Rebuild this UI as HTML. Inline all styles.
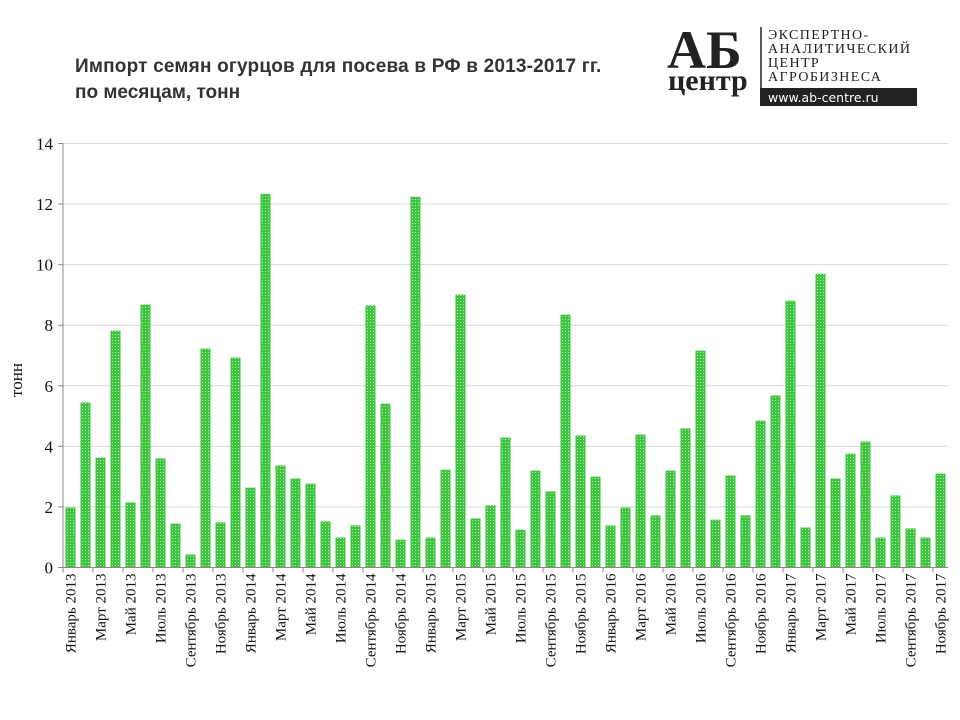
<!DOCTYPE html>
<html><head><meta charset="utf-8"><style>body{margin:0;background:#fff}svg{display:block}</style></head><body>
<svg width="960" height="720" xmlns="http://www.w3.org/2000/svg" font-family="Liberation Serif, serif">
<defs><pattern id="p" width="3" height="3" patternUnits="userSpaceOnUse"><rect width="3" height="3" fill="#3ec43e"/><rect x="1" y="1" width="1" height="1" fill="#b8ecb8"/></pattern></defs>
<text x="75" y="72" font-family="Liberation Sans, sans-serif" font-weight="bold" font-size="19" fill="#333" letter-spacing="0.2">Импорт  семян  огурцов  для  посева  в  РФ  в  2013-2017  гг.</text>
<text x="75" y="98" font-family="Liberation Sans, sans-serif" font-weight="bold" font-size="19" fill="#333">по  месяцам,  тонн</text>
<text x="667" y="68" font-size="54" font-weight="bold" fill="#222">АБ</text>
<text x="668" y="90" font-size="30" font-weight="bold" fill="#222">центр</text>
<line x1="761" y1="27" x2="761" y2="106" stroke="#222" stroke-width="1.5"/>
<g font-size="14" fill="#222" letter-spacing="1.4">
<text x="768" y="39">ЭКСПЕРТНО-</text><text x="768" y="53">АНАЛИТИЧЕСКИЙ</text><text x="768" y="67">ЦЕНТР</text><text x="768" y="81">АГРОБИЗНЕСА</text></g>
<rect x="760" y="88" width="157" height="18" fill="#222"/>
<text x="768" y="102" font-family="DejaVu Sans, sans-serif" font-size="12.5" fill="#fff">www.ab-centre.ru</text>
<g id="grid" stroke="#d9d9d9"></g>
<g id="bars"></g>
<g id="ax"></g>
<text transform="translate(22,380) rotate(-90)" text-anchor="middle" font-size="17" fill="#111">тонн</text>
</svg>
<script>
var v=[1.98,5.45,3.63,7.82,2.15,8.68,3.6,1.45,0.43,7.23,1.49,6.93,2.64,12.34,3.37,2.94,2.77,1.52,0.99,1.39,8.65,5.41,0.92,12.24,0.99,3.23,9.01,1.62,2.05,4.29,1.25,3.2,2.51,8.35,4.36,3.0,1.39,1.98,4.39,1.72,3.2,4.59,7.16,1.58,3.04,1.72,4.85,5.68,8.81,1.32,9.7,2.94,3.76,4.16,0.99,2.38,1.29,0.99,3.1];
var NS="http://www.w3.org/2000/svg",s=document.querySelector('svg');
function el(t,a,p,txt){var e=document.createElementNS(NS,t);for(var k in a)e.setAttribute(k,a[k]);if(txt!=null)e.textContent=txt;(p||s).appendChild(e);return e;}
var x0=63,y0=567.5,sc=(567.5-143.5)/14,pitch=15,W=x0+pitch*59;
var g=document.getElementById('grid'),b=document.getElementById('bars'),ax=document.getElementById('ax');
for(var i=0;i<=14;i+=2){var y=y0-i*sc;if(i>0)el('line',{x1:x0,x2:W,y1:y,y2:y},g);
el('line',{x1:x0-5,x2:x0,y1:y,y2:y,stroke:'#888'},ax);
el('text',{x:x0-10,y:y+6,'text-anchor':'end','font-size':'17',fill:'#111'},ax,i);}
el('line',{x1:x0,x2:x0,y1:143.5,y2:y0,stroke:'#888'},ax);
el('line',{x1:x0,x2:W,y1:y0,y2:y0,stroke:'#888'},ax);
v.forEach(function(d,i){el('rect',{x:x0+i*pitch+2.5,y:y0-d*sc,width:10,height:d*sc,fill:'url(#p)'},b);});
var m=['Январь','Март','Май','Июль','Сентябрь','Ноябрь'];
for(var i=0;i<=59;i+=2){var x=x0+i*pitch;el('line',{x1:x,x2:x,y1:y0,y2:y0+5,stroke:'#888'},ax);
if(i<59){var yr=2013+Math.floor(i/12),lab=m[(i%12)/2]+' '+yr,cx=x+pitch/2+5;
el('text',{x:0,y:0,transform:'translate('+cx+','+(y0+6)+') rotate(-90)','text-anchor':'end','font-size':'15',fill:'#111'},ax,lab);}}
</script>
</body></html>
